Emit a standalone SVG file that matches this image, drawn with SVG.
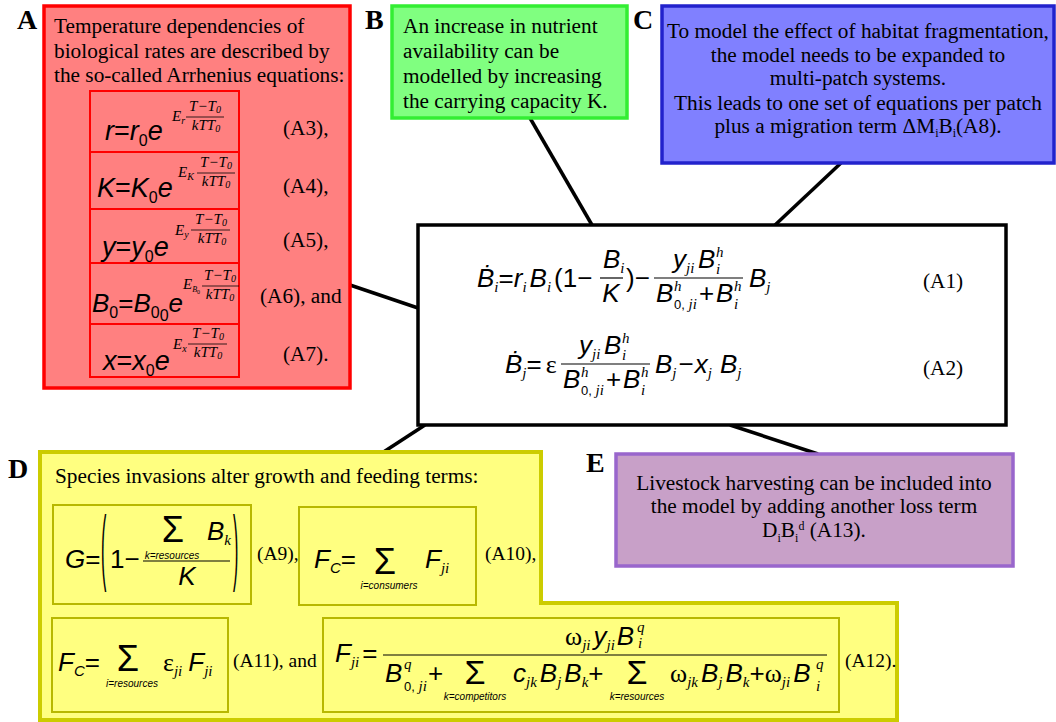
<svg xmlns="http://www.w3.org/2000/svg" width="1056" height="722" viewBox="0 0 1056 722">
<style>
.tx{font-family:"Liberation Serif",serif;font-size:21.3px;fill:#000}
.tx2{font-family:"Liberation Serif",serif;font-size:19.5px;fill:#000}
.lb{font-family:"Liberation Serif",serif;font-size:28px;font-weight:bold;fill:#000}
.m{font-family:"Liberation Sans","DejaVu Sans",sans-serif;font-style:italic;font-size:26px;fill:#000}
.ma{font-size:27px}
.u{font-style:normal}
.sf{font-family:"Liberation Serif",serif}
.s{font-family:"Liberation Serif",serif;font-style:italic;font-size:15px}
.s2{font-family:"Liberation Sans",sans-serif;font-style:italic;font-size:15px}
.n{font-family:"Liberation Sans",sans-serif;font-style:normal;font-size:16px}
.n2{font-family:"Liberation Sans",sans-serif;font-style:normal;font-size:13px}
.ex{font-family:"Liberation Serif",serif;font-style:italic;font-size:15px;fill:#000}
.exs{font-size:10px}
.mid{text-anchor:middle}
.lim{font-family:"Liberation Sans",sans-serif;font-style:italic;font-size:10px;text-anchor:middle;fill:#000}
.sig{font-family:"Liberation Sans",sans-serif;font-size:36px;text-anchor:middle;fill:#000}
.sig2{font-size:34px}
.par{font-family:"Liberation Sans",sans-serif;font-size:16px;fill:#000}
.bar{stroke:#000;stroke-width:1.2}
.bt{stroke:#000;stroke-width:0.8}
.conn{stroke:#000;stroke-width:3.5;fill:none}
.ibA{fill:none;stroke:#ff0000;stroke-width:2}
.ibD{fill:none;stroke:#b8b800;stroke-width:2}
</style>

<g id="connectors">
<line class="conn" x1="350" y1="285" x2="418" y2="308"/>
<line class="conn" x1="530" y1="118" x2="592" y2="225"/>
<line class="conn" x1="841" y1="163" x2="775" y2="225"/>
<line class="conn" x1="382" y1="453" x2="425" y2="425"/>
<line class="conn" x1="730" y1="425" x2="818" y2="454"/>
</g>

<g id="nodeA">
<rect x="44" y="6" width="306" height="382" fill="#ff8080" stroke="#ff0000" stroke-width="3.5"/>
<text class="lb" x="17" y="29">A</text>
<text class="tx" x="54" y="33">Temperature dependencies of</text>
<text class="tx" x="54" y="58">biological rates are described by</text>
<text class="tx" x="54" y="82">the so-called Arrhenius equations:</text>
<rect class="ibA" x="90" y="91" width="149" height="61"/>
<rect class="ibA" x="90" y="152" width="149" height="57"/>
<rect class="ibA" x="90" y="209" width="149" height="54"/>
<rect class="ibA" x="90" y="263" width="149" height="61"/>
<rect class="ibA" x="90" y="324" width="149" height="53"/>
<!-- row1 -->
<text class="m ma" x="105" y="140">r<tspan class="u">=</tspan>r<tspan class="n" dy="6">0</tspan><tspan dy="-6">e</tspan></text>
<text class="ex" x="172" y="121">E<tspan class="exs" dy="3">r</tspan></text>
<line class="bt" x1="186" y1="117" x2="224" y2="117"/>
<text class="ex mid" x="205" y="111">T−T<tspan class="exs" dy="2">0</tspan></text>
<text class="ex mid" x="206" y="130">kTT<tspan class="exs" dy="2">0</tspan></text>
<text class="tx" x="283" y="135">(A3),</text>
<!-- row2 -->
<text class="m ma" x="97" y="197">K<tspan class="u">=</tspan>K<tspan class="n" dy="6">0</tspan><tspan dy="-6">e</tspan></text>
<text class="ex" x="178" y="177">E<tspan class="exs" dy="3">K</tspan></text>
<line class="bt" x1="197" y1="173" x2="235" y2="173"/>
<text class="ex mid" x="216" y="167">T−T<tspan class="exs" dy="2">0</tspan></text>
<text class="ex mid" x="216" y="186">kTT<tspan class="exs" dy="2">0</tspan></text>
<text class="tx" x="283" y="193">(A4),</text>
<!-- row3 -->
<text class="m ma" x="102" y="256">y<tspan class="u">=</tspan>y<tspan class="n" dy="6">0</tspan><tspan dy="-6">e</tspan></text>
<text class="ex" x="175" y="235">E<tspan class="exs" dy="3">y</tspan></text>
<line class="bt" x1="191" y1="230" x2="230" y2="230"/>
<text class="ex mid" x="211" y="224">T−T<tspan class="exs" dy="2">0</tspan></text>
<text class="ex mid" x="212" y="243">kTT<tspan class="exs" dy="2">0</tspan></text>
<text class="tx" x="283" y="247">(A5),</text>
<!-- row4 -->
<text class="m" x="92" y="312">B<tspan class="n" dy="6">0</tspan><tspan dy="-6" class="u">=</tspan>B<tspan class="n" dy="6">0</tspan><tspan class="n" font-size="10" dy="3">0</tspan><tspan dy="-9">e</tspan></text>
<text class="ex" x="183" y="289">E<tspan font-size="8" dy="3">B</tspan><tspan font-size="6" dy="2" font-style="normal">0</tspan></text>
<line class="bt" x1="202" y1="286" x2="239" y2="286"/>
<text class="ex mid" x="220" y="280">T−T<tspan class="exs" dy="2">0</tspan></text>
<text class="ex mid" x="220" y="299">kTT<tspan class="exs" dy="2">0</tspan></text>
<text class="tx" x="260" y="303">(A6), and</text>
<!-- row5 -->
<text class="m ma" x="103" y="370">x<tspan class="u">=</tspan>x<tspan class="n" dy="6">0</tspan><tspan dy="-6">e</tspan></text>
<text class="ex" x="173" y="349">E<tspan class="exs" dy="3">x</tspan></text>
<line class="bt" x1="188" y1="344" x2="227" y2="344"/>
<text class="ex mid" x="208" y="338">T−T<tspan class="exs" dy="2">0</tspan></text>
<text class="ex mid" x="208" y="357">kTT<tspan class="exs" dy="2">0</tspan></text>
<text class="tx" x="283" y="361">(A7).</text>
</g>

<g id="nodeB">
<rect x="392" y="6" width="235" height="112" fill="#80ff80" stroke="#33ee33" stroke-width="3.5"/>
<text class="lb" x="365" y="29">B</text>
<text class="tx" x="403" y="33">An increase in nutrient</text>
<text class="tx" x="403" y="58">availability can be</text>
<text class="tx" x="403" y="83">modelled by increasing</text>
<text class="tx" x="403" y="108">the carrying capacity K.</text>
</g>

<g id="nodeC">
<rect x="662" y="6" width="392" height="157" fill="#8080ff" stroke="#2222cc" stroke-width="3.5"/>
<text class="lb" x="633" y="29">C</text>
<text class="tx mid" x="858" y="38">To model the effect of habitat fragmentation,</text>
<text class="tx mid" x="858" y="62">the model needs to be expanded to</text>
<text class="tx mid" x="858" y="85">multi-patch systems.</text>
<text class="tx mid" x="858" y="110">This leads to one set of equations per patch</text>
<text class="tx mid" x="858" y="133">plus a migration term ΔM<tspan font-size="12" dy="4">i</tspan><tspan dy="-4">B</tspan><tspan font-size="12" dy="4">i</tspan><tspan dy="-4">(A8).</tspan></text>
</g>

<g id="nodeCenter">
<rect x="418" y="225" width="588" height="200" fill="#ffffff" stroke="#000" stroke-width="3.5"/>
<!-- A1 -->
<text class="m" x="477" y="287">Ḃ<tspan class="s" dy="5">i</tspan><tspan dy="-5" class="u">=</tspan>r<tspan class="s" dy="5">i</tspan><tspan dy="-5" dx="3">B</tspan><tspan class="s" dy="5">i</tspan><tspan dy="-5" dx="3" class="u">(1−</tspan></text>
<line class="bar" x1="600" y1="278" x2="623" y2="278"/>
<text class="m" x="603" y="268">B<tspan class="s" dy="5">i</tspan></text>
<text class="m mid" x="611" y="302">K</text>
<text class="m u" x="626" y="287">)−</text>
<line class="bar" x1="654" y1="278" x2="743" y2="278"/>
<text class="m" x="673" y="268">y<tspan class="s" dy="5">ji</tspan></text>
<text class="m" x="698" y="268">B</text>
<text class="s" x="716" y="257">h</text>
<text class="s" x="716" y="274">i</text>
<text class="m" x="656" y="302">B</text>
<text class="s" x="674" y="291">h</text>
<text class="s" x="674" y="309"><tspan class="n2">0, </tspan>ji</text>
<text class="m u" x="699" y="302">+</text>
<text class="m" x="716" y="302">B</text>
<text class="s" x="734" y="291">h</text>
<text class="s" x="734" y="309">i</text>
<text class="m" x="749" y="287">B<tspan class="s" dy="5">j</tspan></text>
<text class="tx" x="923" y="288">(A1)</text>
<!-- A2 -->
<text class="m" x="505" y="373">Ḃ<tspan class="s" dy="5">j</tspan><tspan dy="-5" class="u">=</tspan><tspan class="u sf" dx="4">ε</tspan></text>
<line class="bar" x1="561" y1="364" x2="650" y2="364"/>
<text class="m" x="579" y="354">y<tspan class="s" dy="5">ji</tspan></text>
<text class="m" x="604" y="354">B</text>
<text class="s" x="622" y="343">h</text>
<text class="s" x="622" y="360">i</text>
<text class="m" x="563" y="388">B</text>
<text class="s" x="581" y="377">h</text>
<text class="s" x="581" y="395"><tspan class="n2">0, </tspan>ji</text>
<text class="m u" x="606" y="388">+</text>
<text class="m" x="623" y="388">B</text>
<text class="s" x="641" y="377">h</text>
<text class="s" x="641" y="395">i</text>
<text class="m" x="655" y="373">B<tspan class="s" dy="5">j</tspan><tspan dy="-5" class="u" dx="2">−</tspan><tspan dx="1">x</tspan><tspan class="s" dy="5">j</tspan><tspan dy="-5" dx="8">B</tspan><tspan class="s" dy="5">j</tspan></text>
<text class="tx" x="923" y="375">(A2)</text>
</g>

<g id="nodeD">
<polygon points="40,452 541,452 541,603 897,603 897,720 40,720" fill="#ffff80" stroke="#cccc00" stroke-width="4"/>
<text class="lb" x="8" y="478">D</text>
<text class="tx" x="55" y="483">Species invasions alter growth and feeding terms:</text>
<rect class="ibD" x="53" y="505" width="198" height="99"/>
<rect class="ibD" x="299" y="507" width="177" height="98"/>
<rect class="ibD" x="52" y="618" width="176" height="94"/>
<rect class="ibD" x="323" y="618" width="516" height="94"/>
<!-- A9 -->
<text class="m" x="65" y="568">G<tspan class="u">=</tspan></text>
<text class="par" transform="translate(101,0) scale(1,5.17)" x="0" y="111.3">(</text>
<text class="m u" x="110" y="568">1−</text>
<line class="bar" x1="143" y1="561" x2="230" y2="561"/>
<text class="sig" x="173" y="542">Σ</text>
<text class="lim" x="172" y="559">k=resources</text>
<text class="m" x="207" y="540">B<tspan class="s" dy="5">k</tspan></text>
<text class="m mid" x="187" y="585">K</text>
<text class="par" transform="translate(233,0) scale(1,5.17)" x="0" y="111.3">)</text>
<text class="tx2" x="257" y="560">(A9),</text>
<!-- A10 -->
<text class="m" x="314" y="568">F<tspan class="s2" dy="5">C</tspan><tspan dy="-5" class="u">=</tspan></text>
<text class="sig" x="385" y="574">Σ</text>
<text class="lim" x="389" y="589">i=consumers</text>
<text class="m" x="425" y="568">F<tspan class="s" dy="5">ji</tspan></text>
<text class="tx2" x="485" y="560">(A10),</text>
<!-- A11 -->
<text class="m" x="58" y="671">F<tspan class="s2" dy="5">C</tspan><tspan dy="-5" class="u">=</tspan></text>
<text class="sig" x="128" y="671">Σ</text>
<text class="lim" x="132" y="687">i=resources</text>
<text class="m" x="163" y="671"><tspan class="u sf">ε</tspan><tspan class="s" dy="5">ji</tspan><tspan dy="-5" dx="6">F</tspan><tspan class="s" dy="5">ji</tspan></text>
<text class="tx2" x="233" y="667">(A11), and</text>
<!-- A12 -->
<text class="m" x="335" y="662">F<tspan class="s" dy="5">ji</tspan><tspan dy="-5" class="u" dx="3">=</tspan></text>
<line class="bar" x1="383" y1="655" x2="827" y2="655"/>
<text class="m" x="565" y="645"><tspan class="u sf">ω</tspan><tspan class="s" dy="5">ji</tspan><tspan dy="-5" dx="3">y</tspan><tspan class="s" dy="5">ji</tspan><tspan dy="-5" dx="2">B</tspan></text>
<text class="s" x="637" y="632">q</text>
<text class="s" x="638" y="648">i</text>
<text class="m" x="385" y="682">B</text>
<text class="s" x="404" y="669">q</text>
<text class="s" x="404" y="691"><tspan class="n2">0, </tspan>ji</text>
<text class="m u" x="428" y="682">+</text>
<text class="sig sig2" x="475" y="684">Σ</text>
<text class="lim" x="475" y="700">k=competitors</text>
<text class="m" x="513" y="682">c<tspan class="s" dy="5">jk</tspan><tspan dy="-5" dx="3">B</tspan><tspan class="s" dy="5">j</tspan><tspan dy="-5" dx="3">B</tspan><tspan class="s" dy="5">k</tspan><tspan dy="-5" class="u">+</tspan></text>
<text class="sig sig2" x="637" y="684">Σ</text>
<text class="lim" x="637" y="700">k=resources</text>
<text class="m" x="670" y="682"><tspan class="u sf">ω</tspan><tspan class="s" dy="5">jk</tspan><tspan dy="-5" dx="3">B</tspan><tspan class="s" dy="5">j</tspan><tspan dy="-5" dx="3">B</tspan><tspan class="s" dy="5">k</tspan><tspan dy="-5" class="u">+</tspan><tspan class="u sf">ω</tspan><tspan class="s" dy="5">ji</tspan><tspan dy="-5" dx="3">B</tspan></text>
<text class="s" x="816" y="669">q</text>
<text class="s" x="816" y="691">i</text>
<text class="tx2" x="845" y="667">(A12).</text>
</g>

<g id="nodeE">
<rect x="616" y="454" width="397" height="112" fill="#c8a0c8" stroke="#9966cc" stroke-width="3.5"/>
<text class="lb" x="586" y="472">E</text>
<text class="tx mid" x="814" y="490">Livestock harvesting can be included into</text>
<text class="tx mid" x="814" y="513">the model by adding another loss term</text>
<text class="tx mid" x="814" y="537">D<tspan font-size="12" dy="5">i</tspan><tspan dy="-5">B</tspan><tspan font-size="12" dy="5">i</tspan><tspan font-size="12" dy="-12">d</tspan><tspan dy="7"> (A13).</tspan></text>
</g>
</svg>
